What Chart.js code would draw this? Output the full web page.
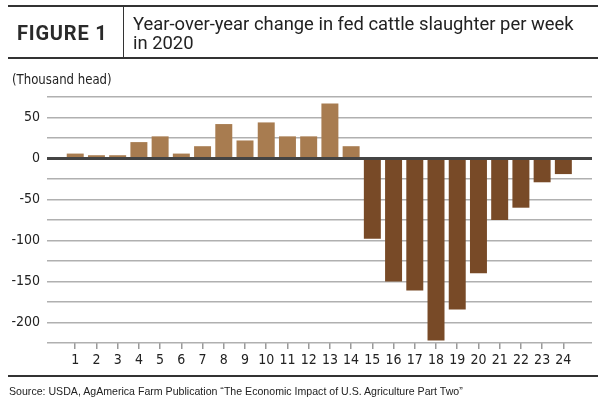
<!DOCTYPE html>
<html>
<head>
<meta charset="utf-8">
<script src="https://cdn.jsdelivr.net/npm/chart.js@4/dist/chart.umd.min.js"></script>
<style>
  html, body { margin: 0; padding: 0; background: #fff; }
  #wrap { position: relative; width: 610px; height: 402px; overflow: hidden; background: #fff; }
  #c { position: absolute; left: 0; top: 0; }
  .rule { position: absolute; background: #333; }
  .txt { position: absolute; white-space: nowrap; color: #222; }
  #fig { left: 17px; top: 23px; font: 700 20px/20px Roboto, sans-serif; letter-spacing: 0.8px; color: #2a2a2a; }
  #title { left: 133px; top: 14px; font: 400 18.4px/19px Roboto, sans-serif; color: #222; }
  #unit { left: 12px; top: 70px; font: 400 14.5px/18px 'Liberation Sans Narrow', 'Arial Narrow', 'DejaVu Sans Condensed', sans-serif; color: #222; transform: scaleX(0.9); transform-origin: left center; }
  #src { left: 9px; top: 384px; font: 400 10.6px/14px 'Liberation Sans', Arial, sans-serif; color: #222; }
</style>
</head>
<body>
<div id="wrap">
  <canvas id="c" width="610" height="402"></canvas>
  <div class="rule" style="left:8px;top:5px;width:590px;height:2px;"></div>
  <div class="rule" style="left:8px;top:57px;width:590px;height:2px;"></div>
  <div class="rule" style="left:123px;top:6px;width:1px;height:52px;"></div>
  <div class="txt" id="fig">FIGURE 1</div>
  <div class="txt" id="title">Year-over-year change in fed cattle slaughter per week<br>in 2020</div>
  <div class="txt" id="unit">(Thousand head)</div>
  <div class="rule" style="left:8px;top:375px;width:590px;height:2px;"></div>
  <div class="txt" id="src">Source: USDA, AgAmerica Farm Publication “The Economic Impact of U.S. Agriculture Part Two”</div>
</div>
<script>
// Data
const weeks = [1,2,3,4,5,6,7,8,9,10,11,12,13,14,15,16,17,18,19,20,21,22,23,24];
const changes = [6,4,4,20,27,6,15,42,22,44,27,27,67,15,-98,-150,-161,-222,-184,-140,-75,-60,-29,-19];
const yTickValues = [-225,-200,-175,-150,-125,-100,-75,-50,-25,0,25,50,75];

const POS = '#a87c50';
const NEG = '#784a27';
const narrow = "'Liberation Sans Narrow', 'Arial Narrow', 'DejaVu Sans Condensed', sans-serif";

new Chart(document.getElementById('c'), {
  type: 'bar',
  data: {
    datasets: [{
      data: weeks.map((w, i) => ({ x: w, y: changes[i] })),
      backgroundColor: changes.map(v => v >= 0 ? POS : NEG),
      borderWidth: 0,
      barPercentage: 0.8,
      categoryPercentage: 1.0
    }]
  },
  options: {
    responsive: false,
    animation: false,
    devicePixelRatio: 1,
    layout: { padding: { top: 97, right: 18, bottom: 0, left: 0 } },
    plugins: { legend: { display: false }, tooltip: { enabled: false } },
    scales: {
      x: {
        type: 'linear',
        offset: false,
        min: -0.33,
        max: 25.35,
        afterBuildTicks: s => { s.ticks = weeks.map(w => ({ value: w })); },
        afterFit: s => { s.height = 59; },
        ticks: {
          autoSkip: false, maxRotation: 0, padding: 3,
          font: { family: narrow, size: 14 }, color: '#222',
          callback: v => String(v)
        },
        grid: { display: true, offset: false, drawOnChartArea: false, drawTicks: true, tickLength: 6, color: '#9a9a9a', lineWidth: 1.5 },
        border: { display: false }
      },
      y: {
        min: -225,
        max: 75,
        afterBuildTicks: s => { s.ticks = yTickValues.map(v => ({ value: v })); },
        afterFit: s => { s.width = 47; },
        ticks: {
          autoSkip: false, padding: 7,
          font: { family: narrow, size: 14 }, color: '#222',
          callback: v => (v % 50 === 0 ? String(v) : '')
        },
        grid: {
          drawTicks: false,
          color: ctx => (ctx.tick && ctx.tick.value === 0 ? '#444' : '#b0b0b0'),
          lineWidth: ctx => (ctx.tick && ctx.tick.value === 0 ? 3 : 1.5)
        },
        border: { display: false }
      }
    }
  }
});
</script>
</body>
</html>
